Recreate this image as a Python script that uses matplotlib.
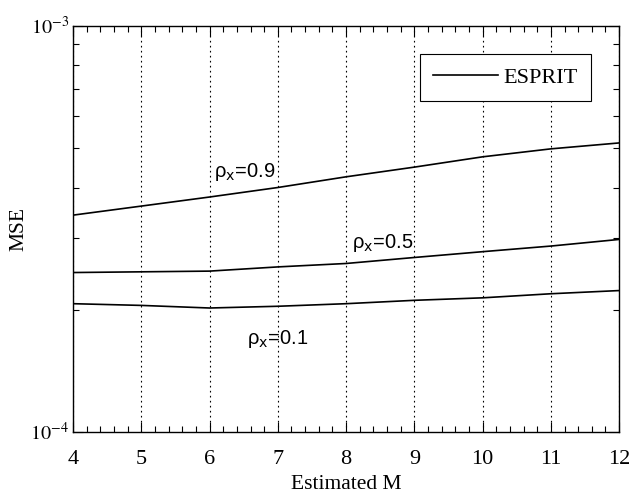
import numpy as np
import matplotlib
matplotlib.use('Agg')
import matplotlib.pyplot as plt
from matplotlib.ticker import FixedLocator, NullFormatter, LogLocator

# MSE of ESPRIT against the estimated order M, one curve per rho_x
m_values = [4, 5, 6, 7, 8, 9, 10, 11, 12]
mse_rho09 = [3.42e-4, 3.60e-4, 3.79e-4, 4.00e-4, 4.25e-4, 4.49e-4, 4.76e-4, 4.98e-4, 5.15e-4]
mse_rho05 = [2.47e-4, 2.48e-4, 2.49e-4, 2.55e-4, 2.60e-4, 2.69e-4, 2.78e-4, 2.87e-4, 2.98e-4]
mse_rho01 = [2.07e-4, 2.05e-4, 2.02e-4, 2.04e-4, 2.07e-4, 2.11e-4, 2.14e-4, 2.19e-4, 2.23e-4]
curve_labels = ['0.9', '0.5', '0.1']
label_pos = [(6.51, 4.36e-4), (8.53, 2.92e-4), (6.99, 1.69e-4)]

plt.rcParams['font.family'] = 'Liberation Serif'
plt.rcParams['mathtext.fontset'] = 'stix'

fig = plt.figure(figsize=(6.35, 4.98), dpi=100)
ax = fig.add_axes([0.115, 0.1325, 0.86, 0.8155])

line, = ax.plot(m_values, mse_rho09, color='black', lw=1.2, label='ESPRIT')
ax.plot(m_values, mse_rho05, color='black', lw=1.2)
ax.plot(m_values, mse_rho01, color='black', lw=1.2)

ax.set_yscale('log')
ax.set_xlim(4, 12)
ax.set_ylim(1e-4, 1e-3)

ax.xaxis.set_major_locator(FixedLocator(m_values))
ax.xaxis.set_minor_locator(FixedLocator(np.arange(4, 12.01, 0.2)))
ax.yaxis.set_major_locator(FixedLocator([1e-4, 1e-3]))
ax.yaxis.set_minor_locator(LogLocator(base=10, subs=np.arange(2, 10)))
ax.yaxis.set_minor_formatter(NullFormatter())
ax.set_yticklabels([r'$10^{-4}$', r'$10^{-3}$'])

ax.tick_params(which='both', direction='in', top=True, right=True, width=0.8)
ax.tick_params(which='major', length=7)
ax.tick_params(which='minor', length=4)
ax.tick_params(axis='x', labelsize=16, pad=13)
ax.tick_params(axis='y', labelsize=14.5, pad=3)

ax.grid(True, axis='x', which='major', linestyle=(0, (1.5, 3)),
        color='black', lw=0.8)
for sp in ax.spines.values():
    sp.set_linewidth(1.0)

for text, (x, y) in zip(curve_labels, label_pos):
    ax.text(x, y, 'ρ$_{\\mathsf{x}}$=' + text, fontsize=14.5,
            family='Liberation Sans', math_fontfamily='dejavusans',
            ha='center', va='center')

ax.set_xlabel('Estimated M', fontsize=15.5, labelpad=4)
ax.set_ylabel('MSE', fontsize=15.5)
ax.yaxis.set_label_coords(-0.082, 0.5)

leg = ax.legend(loc='upper right', fontsize=16, handlelength=2.9,
                fancybox=False, framealpha=1, edgecolor='black',
                borderaxespad=1.27, borderpad=0.6, handletextpad=0.25)
leg.get_frame().set_linewidth(0.8)

fig.savefig('out.png', dpi=100)
